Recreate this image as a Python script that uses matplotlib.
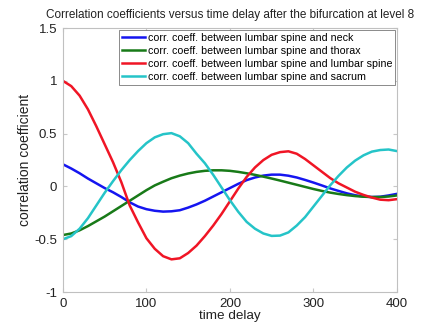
import matplotlib
matplotlib.use("Agg")
import matplotlib.pyplot as plt

plt.rcParams['font.family'] = ['Liberation Sans', 'DejaVu Sans']

time_delay = list(range(0, 401, 10))

neck = [0.21, 0.17, 0.125, 0.075, 0.03, -0.015, -0.055, -0.10, -0.15, -0.19,
        -0.215, -0.23, -0.238, -0.235, -0.225, -0.20, -0.17, -0.135, -0.095, -0.055,
        -0.015, 0.025, 0.06, 0.085, 0.103, 0.112, 0.112, 0.102, 0.085, 0.062,
        0.037, 0.01, -0.018, -0.042, -0.065, -0.083, -0.095, -0.10, -0.097, -0.085,
        -0.07]
thorax = [-0.46, -0.445, -0.415, -0.375, -0.33, -0.285, -0.235, -0.185, -0.135, -0.085,
          -0.035, 0.01, 0.045, 0.078, 0.103, 0.123, 0.138, 0.148, 0.153, 0.153,
          0.148, 0.138, 0.125, 0.11, 0.093, 0.075, 0.056, 0.036, 0.016, -0.004,
          -0.024, -0.042, -0.058, -0.071, -0.082, -0.091, -0.097, -0.10, -0.10, -0.095,
          -0.085]
lumbar = [1.0, 0.95, 0.86, 0.73, 0.57, 0.40, 0.23, 0.04, -0.18, -0.34,
          -0.49, -0.59, -0.66, -0.69, -0.68, -0.63, -0.56, -0.47, -0.37, -0.26,
          -0.14, -0.02, 0.09, 0.18, 0.25, 0.30, 0.325, 0.333, 0.31, 0.26,
          0.20, 0.14, 0.08, 0.03, -0.01, -0.05, -0.08, -0.105, -0.125, -0.13,
          -0.12]
sacrum = [-0.50, -0.47, -0.40, -0.30, -0.18, -0.06, 0.05, 0.155, 0.25, 0.335,
          0.41, 0.465, 0.495, 0.505, 0.475, 0.41, 0.31, 0.22, 0.11, -0.01,
          -0.13, -0.24, -0.335, -0.40, -0.445, -0.468, -0.465, -0.435, -0.37, -0.29,
          -0.19, -0.09, 0.01, 0.10, 0.18, 0.245, 0.295, 0.33, 0.345, 0.35,
          0.335]

labels = ["corr. coeff. between lumbar spine and neck",
          "corr. coeff. between lumbar spine and thorax",
          "corr. coeff. between lumbar spine and lumbar spine",
          "corr. coeff. between lumbar spine and sacrum"]
colors = ["#1515f0", "#187a18", "#f01525", "#25c4c8"]

fig = plt.figure(figsize=(4.25, 3.26), dpi=100)
ax = fig.add_axes([0.148, 0.104, 0.786, 0.81])

for series, lab, col in zip([neck, thorax, lumbar, sacrum], labels, colors):
    ax.plot(time_delay, series, color=col, lw=1.8, label=lab)

ax.set_xlim(0, 400)
ax.set_ylim(-1, 1.5)
ax.set_xticks([0, 100, 200, 300, 400])
ax.set_yticks([-1, -0.5, 0, 0.5, 1, 1.5])
ax.set_yticklabels(['-1', '-0.5', '0', '0.5', '1', '1.5'])
ax.tick_params(direction='in', length=3, labelsize=9.5, colors='#c8c8c8',
               labelcolor='#222222', top=True, right=True, pad=4)
for s in ax.spines.values():
    s.set_color('#c0c0c0')
    s.set_linewidth(0.8)

ax.set_xlabel('time delay', fontsize=9.7, labelpad=0, color='#222222')
ax.set_ylabel('correlation coefficient', fontsize=10, labelpad=2, color='#222222')
ax.set_title('Correlation coefficients versus time delay after the bifurcation at level 8',
             fontsize=8.5, pad=7, color='#222222')

leg = ax.legend(loc='upper right', fontsize=7.7, handlelength=2.2, handletextpad=0.2,
                borderpad=0.3, labelspacing=0.28, fancybox=False, framealpha=1,
                borderaxespad=0.15)
leg.get_frame().set_edgecolor('#777777')
leg.get_frame().set_linewidth(0.6)

fig.savefig('out.png', dpi=100)
